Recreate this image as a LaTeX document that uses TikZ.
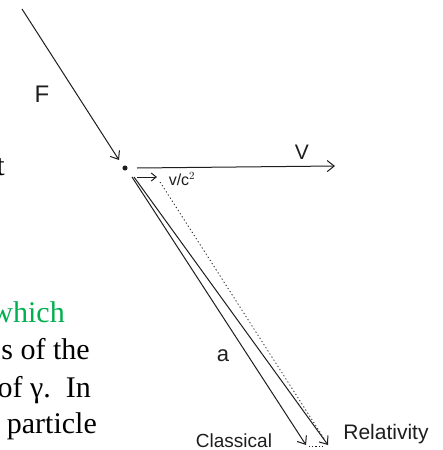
\documentclass[tikz,border=0pt]{standalone}
\usepackage{fontspec}
\setmainfont{Liberation Serif}
\newfontfamily\handfont{Liberation Sans}
\usetikzlibrary{arrows.meta}
\definecolor{wordgreen}{RGB}{0,176,80}
\definecolor{pencil}{RGB}{30,30,30}
\tikzset{
  vec/.style={line width=1pt, draw=pencil, -{Straight Barb[length=7pt,width=11pt]}},
  bodytext/.style={inner sep=0pt, anchor=base east, font=\fontsize{30}{36}\selectfont},
  handlabel/.style={inner sep=0pt, text=pencil, font=\handfont\fontsize{19}{21}\selectfont}
}
\begin{document}
\begin{tikzpicture}[x=1pt,y=-1pt]
\useasboundingbox (0,0) rectangle (443,450);
\clip (0,0) rectangle (443,450);
\fill[white] (0,0) rectangle (443,450);
% body text fragments (cut at left edge, as in the reference)
\node[bodytext] (t1) at (5,175) {t};
\node[bodytext, text=wordgreen] (t2) at (65,322) {which};
\node[bodytext] (t3) at (90,359) {s of the};
\node[bodytext] (t4) at (91,397) {of γ.\ \ In};
\node[bodytext] (t5) at (97,433) {particle};
% points
\coordinate (Fstart) at (22,9);
\node[circle, fill=pencil, inner sep=1.8pt] (dot) at (125,168) {};
\coordinate (Fend) at (119,160);
\coordinate (Vstart) at (137,168);
\coordinate (Vend) at (335,166);
\coordinate (sStart) at (137,177);
\coordinate (sEnd) at (157,177);
\coordinate (cStart) at (132,177);
\coordinate (cEnd) at (306,445);
\coordinate (rStart) at (134,177);
\coordinate (rEnd) at (328,445);
\coordinate (dStart) at (160,182);
\coordinate (dEnd) at (325,440);
\coordinate (hA) at (309,446);
\coordinate (hB) at (322,446);
% arrows
\draw[vec] (Fstart) -- (Fend);
\draw[vec] (Vstart) -- (Vend);
\draw[line width=1pt, draw=pencil, -{Straight Barb[length=5pt,width=8pt]}] (sStart) -- (sEnd);
\draw[vec] (cStart) -- (cEnd);
\draw[vec] (rStart) -- (rEnd);
\draw[line width=0.8pt, draw=pencil, dash pattern=on 1.2pt off 2.5pt] (dStart) -- (dEnd);
\draw[line width=0.8pt, draw=pencil, dash pattern=on 1.2pt off 2pt] (hA) -- (hB);
% labels
\node[handlabel, font=\handfont\fontsize{24}{26}\selectfont] (F) at (42,94) {F};
\node[handlabel, font=\handfont\fontsize{21}{23}\selectfont] (V) at (302,152) {V};
\node[handlabel, font=\handfont\fontsize{16}{18}\selectfont] (vc) at (182,179) {v/c$^{2}$};
\node[handlabel, font=\handfont\fontsize{22}{24}\selectfont] (a) at (223,356) {a};
\node[handlabel] (cl) at (234,441) {Classical};
\node[handlabel, font=\handfont\fontsize{21}{23}\selectfont] (rel) at (386,434) {Relativity};
\end{tikzpicture}
\end{document}
